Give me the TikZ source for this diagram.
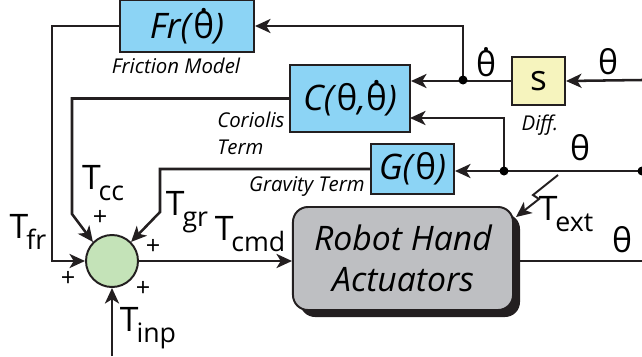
\documentclass[tikz,border=0pt]{standalone}
\usepackage{fontspec}
\setmainfont{Open Sans}
\usetikzlibrary{arrows.meta,calc}
\definecolor{blockblue}{HTML}{8CD4F5}
\definecolor{diffyellow}{HTML}{F6F4BE}
\definecolor{sumgreen}{HTML}{C4E3B8}
\definecolor{handgray}{HTML}{BEBFC2}
\definecolor{wire}{HTML}{231F20}
\pgfkeys{tikz/block/.style={draw=wire,line width=1.4pt,inner sep=0pt,font=\fontsize{25}{25}\selectfont\itshape}}
\pgfkeys{tikz/caption/.style={inner sep=0pt,font=\fontsize{14.5}{19}\selectfont\itshape}}
\pgfkeys{tikz/sig/.style={inner sep=0pt,font=\fontsize{24}{24}\selectfont}}
\pgfkeys{tikz/plus/.style={inner sep=0pt,font=\fontsize{18}{18}\selectfont}}
\newcommand*\trq[1]{T\kern-1.5pt\raisebox{-8pt}{\fontsize{19}{19}\selectfont #1}}
\newcommand*\tht{\textup{θ}}
\newcommand*\thd{\textup{\setbox0\hbox{θ}\rlap{\hbox to\wd0{\hss\raisebox{0.74em}{.}\hss}}θ}}

\begin{document}
\begin{tikzpicture}[x=0.025cm,y=-0.025cm,line width=1.8pt,draw=wire,
  >={Stealth[length=11pt,width=10pt,inset=3pt]}]
\useasboundingbox (0,0) rectangle (642,356);

% blocks
\node [block,fill=blockblue,minimum width=3.35cm,minimum height=1.3cm] (fr) at (187,26) {Fr(\thd)};
\node [block,fill=blockblue,minimum width=3.0cm,minimum height=1.675cm] (cor) at (350,98.5) {C(\tht,\thd)};
\node [block,fill=diffyellow,minimum width=1.325cm,minimum height=1.2cm,font=\fontsize{25}{25}\selectfont] (diff) at (538.5,81) {s};
\node [block,fill=blockblue,minimum width=2.075cm,minimum height=1.25cm] (grav) at (412.5,169) {G(\tht)};
\node [draw=wire,line width=1.4pt,fill=sumgreen,circle,minimum size=1.3cm,inner sep=0pt] (sum) at (112,261) {};

% robot hand with shadow
\fill [wire,rounded corners=0.375cm] (300,214) rectangle (520,317);
\node [block,fill=handgray,rounded corners=0.375cm,minimum width=5.5cm,minimum height=2.575cm,
  align=center,font=\fontsize{24}{29}\selectfont\itshape] (hand) at (403,258.5) {Robot Hand\\Actuators};

% captions
\node [caption] (frcap) at (176,66) {Friction Model};
\node [caption,anchor=north west,align=left] (corcap) at (216,111) {Coriolis\\Term};
\node [caption,anchor=east] (gravcap) at (366,186) {Gravity Term};
\node [caption] (diffcap) at (540,125) {Diff.};

% points
\coordinate (thin) at (642,80);
\coordinate (thg) at (642,171);
\coordinate (thout) at (642,261);
\coordinate (jd) at (463,80);
\coordinate (jg) at (504,171);
\coordinate (cin) at (410,118);
\coordinate (tfr) at (52,261);
\coordinate (tcc) at (72,214);
\coordinate (tgr) at (160,212);
\coordinate (tinp) at (112,356);
\coordinate (ext) at (558,175);

% wires
\draw [->] (thin) -- (diff.east);
\draw [->] (diff.west) -- (diff.west -| cor.east);
\draw [->] (jd) |- (fr.east);
\draw [->] (fr.west) -| (tfr) -- (sum.west);
\draw [->] (thg) -- (thg -| grav.east);
\draw [->] (jg) |- (cin);
\draw [->] (cor.west) -| (tcc) -- (sum.135);
\draw [->] (grav.west) -| (tgr) -- (sum.45);
\draw [->] (tinp) -- (sum.south);
\draw [->] (sum.east) -- (sum.east -| hand.west);
\draw (520,261) -- (thout);
\draw [->,line width=1.4pt] (ext) -- (533,195) -- (539,199) -- (516,217);
\fill (jd) circle (4.5);
\fill (jg) circle (4.5);
\fill (thg) circle (4.5);

% signal labels
\node [sig] at (486,62) {\thd};
\node [sig] at (608,62) {\tht};
\node [sig] at (580,148) {\tht};
\node [sig] at (622,240) {\tht};
\node [sig] at (103,183) {\trq{cc}};
\node [sig] at (28,232) {\trq{fr}};
\node [sig] at (187,212) {\trq{gr}};
\node [sig] at (250,234) {\trq{cmd}};
\node [sig] at (148,328) {\trq{inp}};
\node [sig] at (566,214) {\trq{ext}};
\node [plus] at (100,218) {+};
\node [plus] at (153,247) {+};
\node [plus] at (68,279) {+};
\node [plus] at (143,289) {+};
\end{tikzpicture}
\end{document}
